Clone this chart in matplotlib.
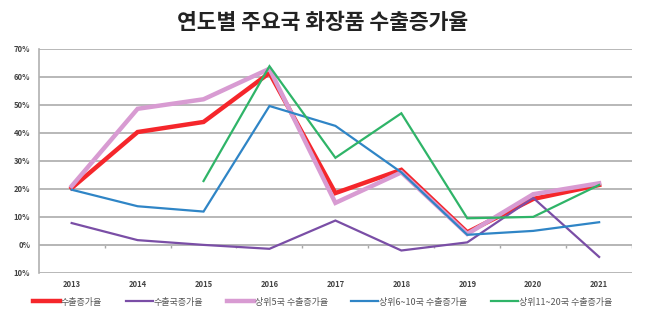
import numpy as np
import matplotlib
matplotlib.use("Agg")
import matplotlib.pyplot as plt
from matplotlib.ticker import FuncFormatter

plt.rcParams['font.family'] = ['Noto Sans CJK KR', 'DejaVu Sans']

# 데이터 (그림에서 읽은 값, %)
연도 = ['2013', '2014', '2015', '2016', '2017', '2018', '2019', '2020', '2021']
수출증가율 = [20.3, 40.3, 43.9, 61.4, 18.5, 26.8, 4.5, 16.4, 21.4]
수출국증가율 = [7.8, 1.7, 0.0, -1.4, 8.7, -2.0, 0.9, 16.8, -4.3]
상위5국 = [21.0, 48.6, 52.0, 62.9, 15.0, 25.9, 3.9, 18.1, 22.0]
상위6_10국 = [19.7, 13.8, 11.9, 49.6, 42.5, 25.9, 3.6, 5.0, 8.1]
상위11_20국 = [np.nan, np.nan, 22.8, 63.8, 31.1, 47.0, 9.5, 10.0, 21.4]

계열 = [
    ('수출증가율', 수출증가율, '#f5262b', 3.2),
    ('수출국증가율', 수출국증가율, '#7a4ea6', 1.6),
    ('상위5국 수출증가율', 상위5국, '#d89bd2', 3.2),
    ('상위6~10국 수출증가율', 상위6_10국, '#2f85c6', 1.6),
    ('상위11~20국 수출증가율', 상위11_20국, '#2fb468', 1.6),
]

fig = plt.figure(figsize=(6.45, 3.28), dpi=100)
ax = fig.add_axes([0.06, 0.168, 0.92, 0.683])

x = np.arange(len(연도))
for 이름, 값, 색, 굵기 in 계열:
    ax.plot(x, 값, color=색, lw=굵기, label=이름, solid_joinstyle='miter', zorder=3)

ax.set_xlim(-0.5, len(연도) - 0.5)
ax.set_ylim(-10, 70)
ax.set_yticks(range(-10, 71, 10))
ax.yaxis.set_major_formatter(FuncFormatter(lambda v, p: f"{abs(int(v))}%"))
ax.grid(axis='y', color='#b8b8b8', lw=1.4, zorder=0)
ax.axhline(0, color='#a8a8a8', lw=1.4, zorder=1)
# 0% 선 위의 눈금 표시
ax.vlines(np.arange(0.5, len(연도), 1), -1.1, 0, color='#a8a8a8', lw=1.0, zorder=1)

ax.set_xticks(x)
ax.set_xticklabels(연도)
ax.tick_params(axis='x', length=0, pad=5)
ax.tick_params(axis='y', length=0, pad=6)
for lab in ax.get_xticklabels() + ax.get_yticklabels():
    lab.set_fontsize(5.5)
    lab.set_color('#444444')
    lab.set_fontweight('bold')

for s in ['top', 'right', 'bottom']:
    ax.spines[s].set_visible(False)
ax.spines['left'].set_color('#b0b0b0')
ax.spines['left'].set_linewidth(1.2)

fig.text(0.5, 0.93, '연도별 주요국 화장품 수출증가율', ha='center', va='center',
         fontsize=15.5, fontweight='bold', color='#222222')

fig.legend(loc='center', bbox_to_anchor=(0.5, 0.079), ncol=5, frameon=False,
           fontsize=6.5, handlelength=3.0, handletextpad=0.1, columnspacing=2.6,
           labelcolor='#555555')

fig.savefig('out.png', dpi=100)
